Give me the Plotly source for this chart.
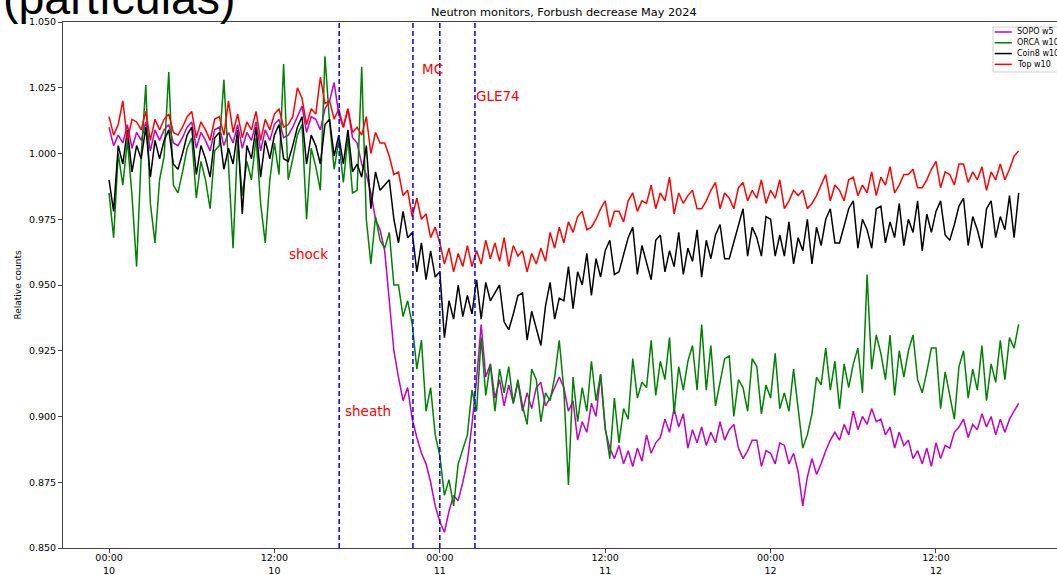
import pandas as pd
import plotly.graph_objects as go

# ---------------- data (relative counts, 20-min samples from 2024-05-10 00:00 UT) ----------------
start_time = "2024-05-10 00:00"
sample_step = "20min"

sopo_w5 = [
    1.010, 1.003, 1.007, 1.004, 1.011, 1.002, 1.008, 1.005, 1.012, 1.001, 1.009, 1.005,
    1.009, 1.011, 1.004, 1.003, 1.006, 1.010, 1.012, 1.002, 1.008, 1.005, 1.001, 1.009,
    1.010, 1.003, 1.008, 1.004, 1.011, 1.002, 1.008, 1.005, 1.012, 1.001, 1.009, 1.005,
    1.011, 1.013, 1.006, 1.007, 1.010, 1.014, 1.018, 1.008, 1.014, 1.013, 1.009, 1.017,
    1.020, 1.027, 1.015, 1.010, 1.017, 1.006, 1.004, 0.996, 0.992, 0.985, 0.975, 0.971,
    0.963, 0.944, 0.925, 0.915, 0.906, 0.911, 0.899, 0.892, 0.886, 0.882, 0.875, 0.866,
    0.860, 0.856, 0.864, 0.870, 0.868, 0.875, 0.883, 0.897, 0.914, 0.935, 0.915, 0.920,
    0.907, 0.914, 0.904, 0.912, 0.905, 0.913, 0.902, 0.909, 0.903, 0.911, 0.913, 0.904,
    0.907, 0.911, 0.915, 0.911, 0.902, 0.906, 0.891, 0.898, 0.894, 0.905, 0.900, 0.916,
    0.895, 0.888, 0.884, 0.889, 0.882, 0.887, 0.881, 0.888, 0.883, 0.893, 0.886, 0.890,
    0.892, 0.899, 0.894, 0.903, 0.896, 0.901, 0.888, 0.895, 0.890, 0.896, 0.889, 0.894,
    0.890, 0.898, 0.891, 0.895, 0.897, 0.888, 0.884, 0.887, 0.891, 0.891, 0.881, 0.887,
    0.886, 0.882, 0.890, 0.889, 0.882, 0.886, 0.879, 0.866, 0.877, 0.884, 0.878, 0.882,
    0.887, 0.891, 0.894, 0.891, 0.897, 0.893, 0.902, 0.895, 0.900, 0.897, 0.903, 0.898,
    0.899, 0.893, 0.896, 0.888, 0.894, 0.889, 0.891, 0.884, 0.887, 0.882, 0.888, 0.881,
    0.890, 0.884, 0.889, 0.888, 0.894, 0.896, 0.899, 0.892, 0.897, 0.895, 0.901, 0.896,
    0.900, 0.893, 0.899, 0.894, 0.899, 0.902, 0.905,
]

orca_w10 = [
    0.985, 0.968, 1.000, 0.988, 1.005, 0.984, 0.957, 0.999, 1.026, 0.981, 0.966, 0.990,
    0.999, 1.031, 0.988, 0.985, 0.993, 1.002, 1.006, 0.983, 0.997, 0.990, 0.979, 1.001,
    1.003, 1.028, 0.996, 0.964, 1.005, 0.984, 0.997, 0.990, 1.006, 0.981, 0.966, 0.990,
    1.004, 0.992, 1.034, 0.990, 0.998, 1.007, 1.011, 0.975, 1.002, 0.995, 0.986, 1.037,
    1.012, 0.994, 1.005, 0.989, 1.006, 0.985, 0.986, 1.033, 0.975, 0.958, 0.976, 0.967,
    0.964, 0.970, 0.950, 0.950, 0.938, 0.944, 0.935, 0.918, 0.929, 0.902, 0.911, 0.893,
    0.885, 0.870, 0.876, 0.866, 0.882, 0.888, 0.893, 0.910, 0.902, 0.930, 0.908, 0.920,
    0.902, 0.918, 0.909, 0.919, 0.905, 0.914, 0.904, 0.897, 0.918, 0.914, 0.898, 0.909,
    0.906, 0.915, 0.929, 0.910, 0.874, 0.915, 0.898, 0.911, 0.902, 0.921, 0.906, 0.916,
    0.896, 0.884, 0.907, 0.890, 0.903, 0.899, 0.922, 0.907, 0.913, 0.911, 0.929, 0.908,
    0.921, 0.914, 0.930, 0.901, 0.919, 0.910, 0.921, 0.927, 0.910, 0.935, 0.910, 0.927,
    0.904, 0.913, 0.922, 0.923, 0.900, 0.914, 0.911, 0.902, 0.922, 0.919, 0.901, 0.912,
    0.907, 0.924, 0.903, 0.909, 0.902, 0.918, 0.904, 0.888, 0.893, 0.901, 0.915, 0.912,
    0.926, 0.910, 0.921, 0.903, 0.920, 0.911, 0.920, 0.926, 0.909, 0.954, 0.918, 0.931,
    0.924, 0.914, 0.931, 0.908, 0.925, 0.915, 0.925, 0.931, 0.914, 0.909, 0.917, 0.926,
    0.926, 0.903, 0.917, 0.908, 0.899, 0.919, 0.925, 0.907, 0.918, 0.910, 0.927, 0.906,
    0.920, 0.913, 0.929, 0.914, 0.930, 0.926, 0.935,
]

coin8_w10 = [
    0.990, 0.978, 1.003, 0.996, 1.009, 0.993, 1.003, 0.998, 1.010, 0.991, 1.005, 0.998,
    1.005, 1.009, 0.996, 0.994, 1.000, 1.007, 1.010, 0.992, 1.003, 0.998, 0.991, 1.006,
    1.008, 0.994, 1.002, 0.996, 1.009, 0.977, 1.003, 0.998, 1.010, 0.991, 1.005, 0.998,
    1.007, 1.011, 0.998, 0.997, 1.003, 1.010, 1.014, 0.996, 1.007, 1.003, 0.996, 1.011,
    1.013, 0.999, 1.007, 0.996, 1.009, 0.993, 0.996, 0.991, 1.003, 0.979, 0.993, 0.986,
    0.988, 0.990, 0.975, 0.966, 0.978, 0.968, 0.970, 0.955, 0.966, 0.952, 0.963, 0.953,
    0.955, 0.930, 0.944, 0.937, 0.950, 0.938, 0.946, 0.939, 0.952, 0.937, 0.951, 0.944,
    0.947, 0.950, 0.936, 0.933, 0.939, 0.946, 0.947, 0.929, 0.940, 0.934, 0.927, 0.942,
    0.951, 0.937, 0.945, 0.944, 0.957, 0.941, 0.955, 0.950, 0.962, 0.946, 0.960, 0.953,
    0.963, 0.967, 0.954, 0.955, 0.961, 0.968, 0.972, 0.954, 0.965, 0.959, 0.952, 0.967,
    0.969, 0.955, 0.963, 0.957, 0.970, 0.954, 0.964, 0.959, 0.971, 0.953, 0.967, 0.960,
    0.969, 0.973, 0.960, 0.960, 0.966, 0.973, 0.979, 0.961, 0.972, 0.968, 0.961, 0.976,
    0.975, 0.961, 0.969, 0.961, 0.974, 0.958, 0.968, 0.963, 0.975, 0.958, 0.972, 0.965,
    0.975, 0.979, 0.966, 0.966, 0.972, 0.979, 0.982, 0.964, 0.975, 0.971, 0.964, 0.979,
    0.980, 0.966, 0.974, 0.968, 0.981, 0.965, 0.975, 0.970, 0.982, 0.963, 0.977, 0.970,
    0.978, 0.982, 0.969, 0.967, 0.973, 0.980, 0.983, 0.965, 0.976, 0.971, 0.964, 0.979,
    0.982, 0.968, 0.976, 0.971, 0.984, 0.968, 0.985,
]

top_w10 = [
    1.014, 1.007, 1.011, 1.020, 1.005, 1.013, 1.012, 1.009, 1.016, 1.005, 1.013, 1.009,
    1.013, 1.015, 1.008, 1.007, 1.010, 1.014, 1.016, 1.006, 1.012, 1.009, 1.005, 1.013,
    1.014, 1.007, 1.020, 1.008, 1.015, 1.006, 1.012, 1.009, 1.016, 1.005, 1.013, 1.009,
    1.015, 1.017, 1.010, 1.011, 1.014, 1.025, 1.021, 1.011, 1.017, 1.015, 1.029, 1.019,
    1.020, 1.013, 1.017, 1.010, 1.017, 1.008, 1.010, 1.007, 1.014, 1.000, 1.008, 1.004,
    1.004, 0.999, 0.992, 0.993, 0.984, 0.986, 0.976, 0.983, 0.975, 0.977, 0.968, 0.972,
    0.966, 0.958, 0.964, 0.955, 0.962, 0.957, 0.965, 0.957, 0.963, 0.958, 0.967, 0.960,
    0.966, 0.959, 0.968, 0.957, 0.965, 0.961, 0.963, 0.955, 0.962, 0.958, 0.964, 0.959,
    0.970, 0.964, 0.972, 0.966, 0.974, 0.970, 0.976, 0.978, 0.971, 0.972, 0.975, 0.979,
    0.982, 0.972, 0.978, 0.978, 0.974, 0.982, 0.985, 0.978, 0.982, 0.981, 0.988, 0.979,
    0.985, 0.982, 0.991, 0.977, 0.985, 0.981, 0.984, 0.986, 0.979, 0.979, 0.982, 0.986,
    0.989, 0.979, 0.985, 0.983, 0.979, 0.987, 0.989, 0.982, 0.986, 0.983, 0.990, 0.981,
    0.986, 0.983, 0.990, 0.979, 0.982, 0.986, 0.984, 0.986, 0.979, 0.981, 0.984, 0.988,
    0.992, 0.982, 0.988, 0.986, 0.982, 0.990, 0.991, 0.984, 0.988, 0.985, 0.993, 0.984,
    0.991, 0.988, 0.995, 0.985, 0.988, 0.992, 0.992, 0.994, 0.987, 0.987, 0.990, 0.994,
    0.997, 0.987, 0.993, 0.992, 0.988, 0.996, 0.996, 0.989, 0.993, 0.990, 0.995, 0.986,
    0.993, 0.990, 0.996, 0.990, 0.994, 0.999, 1.001,
]

series_names = ["SOPO w5", "ORCA w10", "Coin8 w10", "Top w10"]
series_values = [sopo_w5, orca_w10, coin8_w10, top_w10]
series_colors = ["#bf00bf", "#008000", "#000000", "#ff0000"]

event_times = ["2024-05-10 16:42", "2024-05-10 22:03", "2024-05-11 00:00", "2024-05-11 02:33"]
label_texts = ["shock", "sheath", "MC", "GLE74"]
label_times = ["2024-05-10 12:55", "2024-05-10 17:00", "2024-05-10 22:35", "2024-05-11 02:30"]
label_values = [0.9618, 0.9021, 1.0321, 1.0219]

y_ticks = [0.850, 0.875, 0.900, 0.925, 0.950, 0.975, 1.000, 1.025, 1.050]
x_range = ["2024-05-09 20:39:36", "2024-05-12 20:46:48"]

# ---------------- figure ----------------
fig = go.Figure()
for name, vals, col in zip(series_names, series_values, series_colors):
    t = pd.date_range(start_time, periods=len(vals), freq=sample_step)
    fig.add_trace(go.Scatter(x=t, y=vals, mode="lines", name=name,
                             line=dict(color=col, width=1.5), showlegend=False))

for et in event_times:
    fig.add_shape(type="line", xref="x", yref="paper", x0=et, x1=et, y0=0, y1=1,
                  line=dict(color="#0000ff", width=1.5, dash="5px,3px"))

for txt, lt, lv in zip(label_texts, label_times, label_values):
    fig.add_annotation(x=lt, y=lv, xref="x", yref="y", text=txt, showarrow=False,
                       xanchor="left", yanchor="middle",
                       font=dict(family="DejaVu Sans", size=13.5, color="#ff0000"))

# legend box (matplotlib-style, upper right, partly outside the window)
fig.add_shape(type="rect", xref="paper", yref="paper", x0=0.9356, x1=1.03, y0=0.905, y1=0.9905,
              line=dict(color="#d0d0d0", width=1), fillcolor="white", layer="above")
legend_rows = [0.981, 0.9605, 0.940, 0.9195]
for name, col, ry in zip(series_names, series_colors, legend_rows):
    fig.add_shape(type="line", xref="paper", yref="paper", x0=0.9373, x1=0.9545, y0=ry, y1=ry,
                  line=dict(color=col, width=1.5), layer="above")
    fig.add_annotation(text=name, xref="paper", yref="paper", x=0.9578, y=ry,
                       xanchor="left", yanchor="middle", showarrow=False,
                       font=dict(family="DejaVu Sans", size=8, color="#000000"))

fig.add_annotation(text="(partículas)", xref="paper", yref="paper",
                   x=-0.0628, y=1.0, xanchor="left", yanchor="bottom", yshift=-4,
                   showarrow=False,
                   font=dict(family="Liberation Sans", size=46.5, color="#000000"))

fig.add_annotation(text="Neutron monitors, Forbush decrease May 2024",
                   xref="paper", yref="paper", x=0.5045, y=1.0, yshift=9.5,
                   xanchor="center", yanchor="middle", showarrow=False,
                   font=dict(family="DejaVu Sans", size=11.3, color="#000000"))

fig.update_layout(
    width=1057, height=575,
    margin=dict(l=63, r=0, t=22, b=27),
    paper_bgcolor="white", plot_bgcolor="white",
    font=dict(family="DejaVu Sans", size=9.5, color="#000000"),
    showlegend=False,
)
fig.update_xaxes(
    type="date", range=x_range, tickformat="%H:%M<br>%d", dtick=12 * 3600 * 1000,
    tick0="2024-05-10 00:00", showgrid=False, zeroline=False,
    showline=True, linecolor="#444444", linewidth=1, mirror=True,
    ticks="outside", ticklen=4, tickcolor="#444444", automargin=False,
    tickfont=dict(size=9.5), ticklabelstandoff=-3,
)
fig.update_yaxes(
    range=[0.850, 1.050], tickvals=y_ticks, tickformat=".3f", showgrid=False,
    zeroline=False, showline=True, linecolor="#444444", linewidth=1,
    ticks="outside", ticklen=4, tickcolor="#444444", automargin=False,
    title=dict(text="Relative counts", font=dict(size=9), standoff=5),
    tickfont=dict(size=9.5),
)

fig.write_html(
    "out.html",
    config={"displayModeBar": False},
    post_script="document.body.style.margin='0px';document.body.style.padding='0px';"
                "document.body.style.overflow='hidden';",
)
